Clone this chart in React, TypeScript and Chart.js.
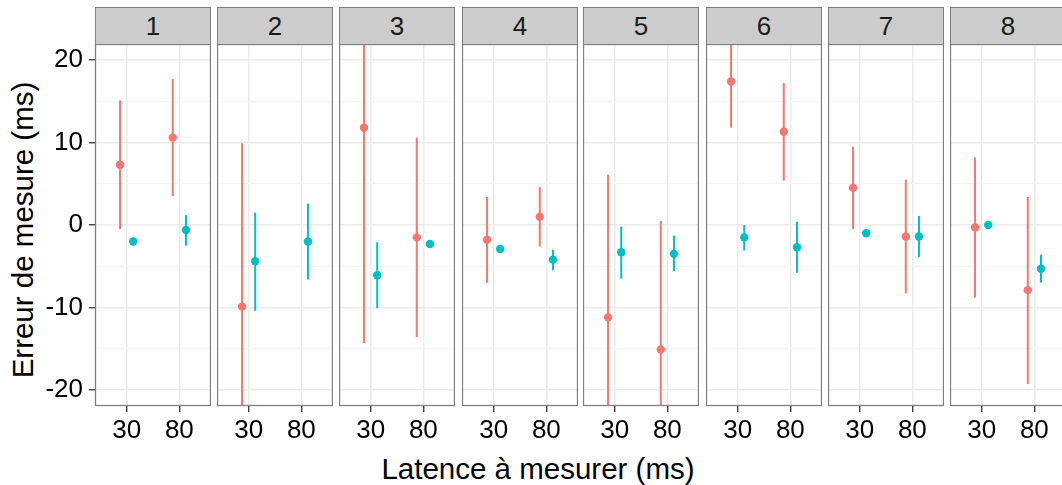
import React, { useEffect, useRef } from "react";
import { Chart, registerables } from "chart.js";

Chart.register(...registerables);

// ---- Data ----
const panelLabels = ["1", "2", "3", "4", "5", "6", "7", "8"];
const xLabels = ["30", "80"];
const yTicks = [-20, -15, -10, -5, 0, 5, 10, 15, 20];

const redMean: (number | null)[][] = [
  [7.3, 10.6], [-9.9, null], [11.8, -1.5], [-1.8, 1.0],
  [-11.2, -15.1], [17.4, 11.3], [4.5, -1.4], [-0.3, -7.9],
];
const redLow: (number | null)[][] = [
  [-0.5, 3.5], [-29.8, null], [-14.3, -13.6], [-7.0, -2.6],
  [-28.4, -30.7], [11.8, 5.4], [-0.5, -8.3], [-8.8, -19.3],
];
const redHigh: (number | null)[][] = [
  [15.1, 17.7], [9.9, null], [37.8, 10.6], [3.4, 4.6],
  [6.1, 0.5], [23.0, 17.2], [9.5, 5.5], [8.2, 3.4],
];
const tealMean: (number | null)[][] = [
  [-2.0, -0.6], [-4.4, -2.0], [-6.1, -2.3], [-2.9, -4.2],
  [-3.3, -3.5], [-1.5, -2.7], [-1.0, -1.4], [0.0, -5.3],
];
const tealLow: (number | null)[][] = [
  [-2.3, -2.5], [-10.4, -6.6], [-10.1, -2.6], [-3.2, -5.5],
  [-6.5, -5.6], [-3.1, -5.8], [-1.3, -3.9], [-0.3, -7.0],
];
const tealHigh: (number | null)[][] = [
  [-1.7, 1.2], [1.5, 2.6], [-2.1, -2.0], [-2.6, -3.0],
  [-0.2, -1.3], [0.0, 0.4], [-0.7, 1.1], [0.3, -3.6],
];

// ---- Styling / layout constants ----
const RED = "#F8766D";
const TEAL = "#00BFC4";
const DODGE = 0.125;
const Y_MIN = -21.95;
const Y_MAX = 21.95;
const PANEL_LEFTS = [95, 217, 339, 462, 583, 706, 828, 950];
const PANEL_W = 116;
const PLOT_TOP = 44;
const PLOT_H = 362;
const X_AXIS_H = 44;
const Y_AXIS_W = 55;
const FONT = "'Liberation Sans', Arial, Helvetica, sans-serif";

const errorBarPlugin = {
  id: "errorBars",
  beforeDatasetsDraw(chart: any) {
    const { ctx, chartArea, scales } = chart;
    ctx.save();
    ctx.beginPath();
    ctx.rect(chartArea.left, chartArea.top, chartArea.right - chartArea.left, chartArea.bottom - chartArea.top);
    ctx.clip();
    chart.data.datasets.forEach((ds: any) => {
      ds.data.forEach((pt: any, k: number) => {
        const lo = ds.errLow[k];
        const hi = ds.errHigh[k];
        if (pt.y == null || lo == null || hi == null) return;
        const px = scales.x.getPixelForValue(pt.x);
        ctx.strokeStyle = ds.backgroundColor;
        ctx.lineWidth = 2;
        ctx.beginPath();
        ctx.moveTo(px, scales.y.getPixelForValue(lo));
        ctx.lineTo(px, scales.y.getPixelForValue(hi));
        ctx.stroke();
      });
    });
    ctx.restore();
  },
  afterDraw(chart: any) {
    const { ctx, chartArea } = chart;
    ctx.save();
    ctx.strokeStyle = "#7F7F7F";
    ctx.lineWidth = 1.3;
    ctx.strokeRect(
      chartArea.left + 0.5,
      chartArea.top + 0.5,
      chartArea.right - chartArea.left - 1,
      chartArea.bottom - chartArea.top - 1
    );
    ctx.restore();
  },
};

function zeroPad(scale: any) {
  scale.paddingLeft = 0;
  scale.paddingRight = 0;
  scale.paddingTop = 0;
  scale.paddingBottom = 0;
}

function Panel({ idx }: { idx: number }) {
  const ref = useRef<HTMLCanvasElement | null>(null);
  const first = idx === 0;
  const canvasLeft = first ? PANEL_LEFTS[0] - Y_AXIS_W : PANEL_LEFTS[idx];
  const canvasW = first ? PANEL_W + Y_AXIS_W : PANEL_W;
  const canvasH = PLOT_H + X_AXIS_H;

  useEffect(() => {
    if (!ref.current) return;
    const mk = (mean: (number | null)[], off: number) =>
      mean.map((v, k) => ({ x: k + 1 + off, y: v }));
    const chart = new Chart(ref.current, {
      type: "scatter",
      data: {
        datasets: [
          {
            data: mk(redMean[idx], -DODGE),
            errLow: redLow[idx],
            errHigh: redHigh[idx],
            backgroundColor: RED,
            borderColor: RED,
            borderWidth: 0,
            pointRadius: 4.2,
            pointHoverRadius: 4.2,
          } as any,
          {
            data: mk(tealMean[idx], DODGE),
            errLow: tealLow[idx],
            errHigh: tealHigh[idx],
            backgroundColor: TEAL,
            borderColor: TEAL,
            borderWidth: 0,
            pointRadius: 4.2,
            pointHoverRadius: 4.2,
          } as any,
        ],
      },
      options: {
        animation: false,
        responsive: false,
        devicePixelRatio: 1,
        layout: { padding: 0, autoPadding: false },
        plugins: { legend: { display: false }, tooltip: { enabled: false } },
        events: [],
        scales: {
          x: {
            type: "linear",
            min: 0.4,
            max: 2.6,
            afterBuildTicks: (s: any) => {
              s.ticks = xLabels.map((_, k) => ({ value: k + 1 }));
            },
            afterFit: (s: any) => {
              s.height = X_AXIS_H;
              zeroPad(s);
            },
            border: { display: false },
            grid: {
              color: "#EBEBEB",
              lineWidth: 1.5,
              drawTicks: true,
              tickLength: 6,
              tickColor: "#333333",
              tickWidth: 1.3,
            },
            ticks: {
              padding: 3,
              color: "#000000",
              font: { family: FONT, size: 26, lineHeight: 1.2 },
              maxRotation: 0,
              autoSkip: false,
              callback: (v: any) => xLabels[Math.round(Number(v)) - 1] ?? "",
            },
          },
          y: {
            type: "linear",
            min: Y_MIN,
            max: Y_MAX,
            afterBuildTicks: (s: any) => {
              s.ticks = yTicks.map((v) => ({ value: v }));
            },
            afterFit: (s: any) => {
              s.width = first ? Y_AXIS_W : 0;
              zeroPad(s);
            },
            border: { display: false },
            grid: {
              color: (c: any) => (c.tick && c.tick.value % 10 === 0 ? "#EBEBEB" : "#F5F5F5"),
              lineWidth: (c: any) => (c.tick && c.tick.value % 10 === 0 ? 1.5 : 1),
              drawTicks: first,
              tickLength: 6,
              tickColor: (c: any) => (c.tick && c.tick.value % 10 === 0 ? "#333333" : "rgba(0,0,0,0)"),
              tickWidth: 1.3,
            },
            ticks: {
              display: first,
              padding: 6,
              color: "#000000",
              font: { family: FONT, size: 26 },
              autoSkip: false,
              callback: (v: any) => (Number(v) % 10 === 0 ? String(v) : ""),
            },
          },
        },
      },
      plugins: [errorBarPlugin],
    });
    return () => chart.destroy();
  }, [idx]);

  return (
    <>
      <div
        style={{
          position: "absolute",
          left: PANEL_LEFTS[idx],
          top: 7,
          width: PANEL_W,
          height: 38,
          boxSizing: "border-box",
          border: "1.3px solid #7F7F7F",
          background: "#CCCCCC",
          fontFamily: FONT,
          fontSize: 26,
          lineHeight: "36px",
          textAlign: "center",
          color: "#1A1A1A",
        }}
      >
        {panelLabels[idx]}
      </div>
      <canvas
        ref={ref}
        width={canvasW}
        height={canvasH}
        style={{
          position: "absolute",
          left: canvasLeft,
          top: PLOT_TOP,
          width: canvasW,
          height: canvasH,
        }}
      />
    </>
  );
}

export default function App() {
  return (
    <div
      style={{
        position: "fixed",
        left: 0,
        top: 0,
        width: 1062,
        height: 485,
        overflow: "hidden",
        background: "#FFFFFF",
      }}
    >
      {panelLabels.map((_, i) => (
        <Panel key={i} idx={i} />
      ))}
      <div
        style={{
          position: "absolute",
          left: 23 - 200,
          top: 230 - 17,
          width: 400,
          height: 34,
          lineHeight: "34px",
          textAlign: "center",
          fontFamily: FONT,
          fontSize: 29.5,
          color: "#000",
          transform: "rotate(-90deg)",
          whiteSpace: "nowrap",
        }}
      >
        Erreur de mesure (ms)
      </div>
      <div
        style={{
          position: "absolute",
          left: 538 - 250,
          top: 452,
          width: 500,
          height: 34,
          lineHeight: "34px",
          textAlign: "center",
          fontFamily: FONT,
          fontSize: 29.5,
          color: "#000",
          whiteSpace: "nowrap",
        }}
      >
        Latence à mesurer (ms)
      </div>
    </div>
  );
}
